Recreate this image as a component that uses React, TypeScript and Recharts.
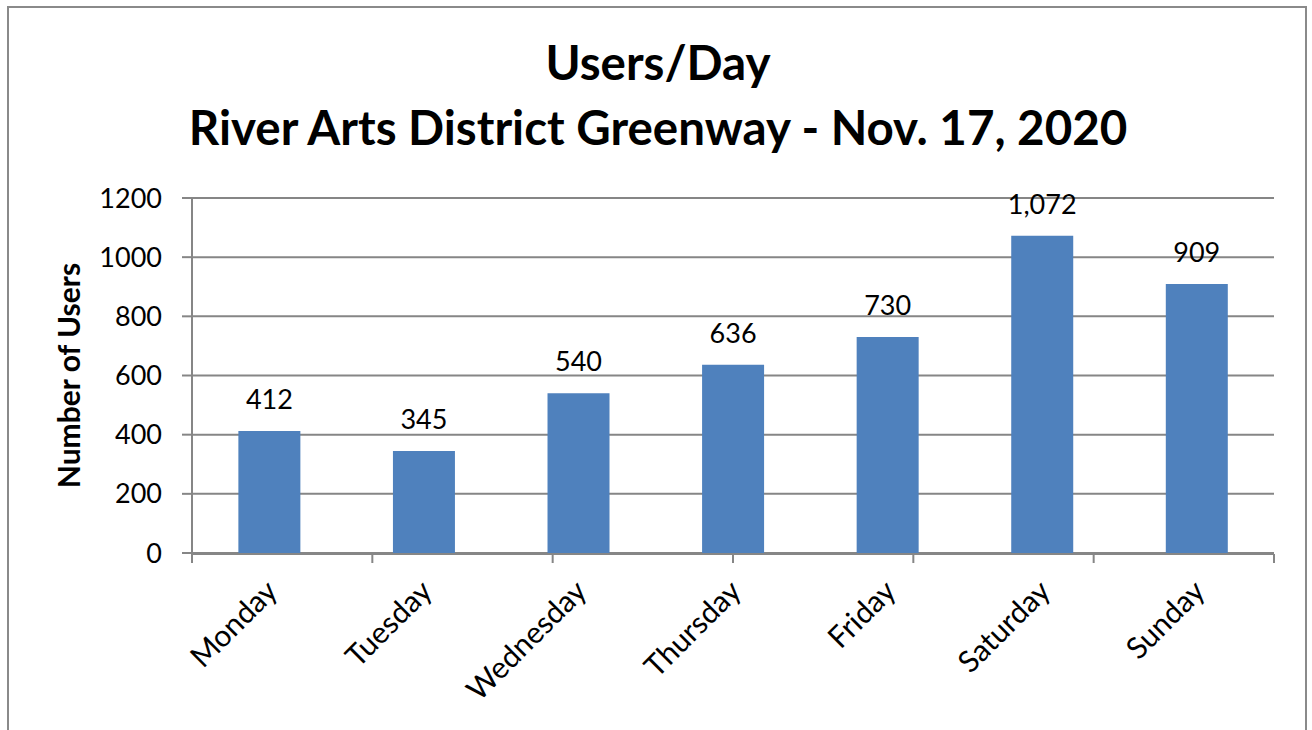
import React from 'react';
import { BarChart, Bar, XAxis, YAxis, CartesianGrid, LabelList } from 'recharts';

const days = ['Monday', 'Tuesday', 'Wednesday', 'Thursday', 'Friday', 'Saturday', 'Sunday'];
const users = [412, 345, 540, 636, 730, 1072, 909];
const yTicks = [0, 200, 400, 600, 800, 1000, 1200];
const boundaryTicks = [0, 1, 2, 3, 4, 5, 6, 7];
const titleLines = ['Users/Day', 'River Arts District Greenway - Nov. 17, 2020'];
const yLabel = 'Number of Users';

const data = days.map((d, i) => ({ day: d, users: users[i] }));

const FONT = 'Lato, "Open Sans", sans-serif';
const GRAY = '#868686';
const BAR = '#4F81BD';

const DayTick = (props: any) => {
  const { x, y, payload } = props;
  return (
    <text
      transform={`translate(${x + 10},${y + 40}) rotate(-45)`}
      textAnchor="end"
      fontFamily={FONT}
      fontSize={30}
      fill="#000"
    >
      {payload.value}
    </text>
  );
};

const YLabel = (props: any) => {
  const vb = props.viewBox || { x: 112, y: 198, width: 80, height: 355 };
  const cx = vb.x - 32;
  const cy = vb.y + vb.height / 2;
  return (
    <text
      x={cx}
      y={cy}
      transform={`rotate(-90, ${cx}, ${cy})`}
      textAnchor="middle"
      fontFamily={FONT}
      fontWeight="bold"
      fontSize={30}
      fill="#000"
    >
      {yLabel}
    </text>
  );
};

export default function App() {
  return (
    <div style={{ position: 'absolute', left: 0, top: 0, width: 1312, height: 730, overflow: 'hidden', background: '#fff' }}>
      <div
        style={{
          position: 'absolute',
          left: 7,
          top: 6,
          width: 1300,
          height: 800,
          border: '2px solid #8a8a8a',
          boxSizing: 'border-box',
        }}
      />
      <div style={{ position: 'absolute', left: 0, top: 0 }}>
        <BarChart
          width={1312}
          height={730}
          data={data}
          margin={{ top: 198, right: 38, left: 112, bottom: 175 }}
          barCategoryGap="30%"
        >
          <CartesianGrid vertical={false} stroke={GRAY} strokeWidth={2} />
          <XAxis
            xAxisId="edge"
            type="number"
            domain={[0, 7]}
            ticks={boundaryTicks}
            interval={0}
            tickFormatter={() => ''}
            tickSize={9}
            height={1}
            stroke={GRAY}
            strokeWidth={2}
            allowDataOverflow
          />
          <XAxis
            dataKey="day"
            height={1}
            tickSize={0}
            tickMargin={0}
            axisLine={false}
            tickLine={false}
            tick={<DayTick />}
            interval={0}
          />
          <YAxis
            width={80}
            domain={[0, 1200]}
            ticks={yTicks}
            interval={0}
            tickSize={10}
            tickMargin={20}
            stroke={GRAY}
            strokeWidth={2}
            tick={{ fontFamily: FONT, fontSize: 27, fill: '#000' }}
            label={<YLabel />}
          />
          <Bar dataKey="users" fill={BAR} isAnimationActive={false}>
            <LabelList
              dataKey="users"
              position="top"
              offset={22}
              formatter={(v: any) => Number(v).toLocaleString('en-US')}
              style={{ fontFamily: FONT, fontSize: 27, fill: '#000' }}
            />
          </Bar>
        </BarChart>
      </div>
      <svg
        width={1312}
        height={180}
        style={{ position: 'absolute', left: 0, top: 0, pointerEvents: 'none' }}
      >
        <text x={658} y={80} textAnchor="middle" fontFamily={FONT} fontWeight="bold" fontSize={47.5} fill="#000">
          {titleLines[0]}
        </text>
        <text x={658} y={145} textAnchor="middle" fontFamily={FONT} fontWeight="bold" fontSize={47.5} fill="#000">
          {titleLines[1]}
        </text>
      </svg>
    </div>
  );
}
